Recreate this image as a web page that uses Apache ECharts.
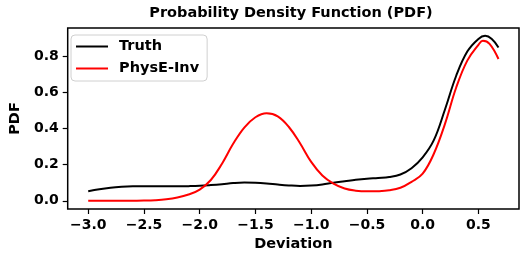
<!DOCTYPE html>
<html>
<head>
<meta charset="utf-8">
<script src="https://cdn.jsdelivr.net/npm/echarts@6/dist/echarts.min.js"></script>
<style>
html,body{margin:0;padding:0;background:#fff;}
#chart{width:529px;height:262px;}
</style>
</head>
<body>
<div id="chart"></div>
<script>
const titleText = 'Probability Density Function (PDF)';
const xName = 'Deviation';
const yName = 'PDF';
const seriesNames = ['Truth', 'PhysE-Inv'];

const truthX = [-3.0,-2.9,-2.8,-2.7,-2.6,-2.5,-2.4,-2.3,-2.2,-2.1,-2.0,-1.9,-1.8,-1.7,-1.6,-1.5,-1.4,-1.3,-1.2,-1.1,-1.0,-0.9,-0.8,-0.7,-0.6,-0.5,-0.4,-0.3,-0.2,-0.1,0.0,0.1,0.2,0.3,0.4,0.5,0.56,0.62,0.68];
const truthY = [0.053,0.064,0.072,0.077,0.080,0.081,0.081,0.080,0.080,0.081,0.083,0.087,0.092,0.098,0.101,0.100,0.096,0.090,0.085,0.082,0.084,0.090,0.100,0.108,0.116,0.122,0.126,0.131,0.145,0.180,0.240,0.335,0.505,0.690,0.825,0.895,0.912,0.895,0.848];

const predX = [-3.0,-2.9,-2.8,-2.7,-2.6,-2.5,-2.4,-2.3,-2.2,-2.1,-2.0,-1.9,-1.8,-1.7,-1.6,-1.5,-1.4,-1.3,-1.2,-1.1,-1.0,-0.9,-0.8,-0.7,-0.6,-0.5,-0.4,-0.3,-0.2,-0.1,0.0,0.1,0.2,0.3,0.4,0.5,0.54,0.6,0.68];
const predY = [0.0,0.0,0.0,0.0,0.0005,0.001,0.003,0.008,0.018,0.035,0.062,0.115,0.205,0.315,0.405,0.462,0.484,0.467,0.408,0.318,0.215,0.140,0.095,0.068,0.056,0.052,0.053,0.058,0.072,0.105,0.150,0.260,0.425,0.625,0.775,0.862,0.885,0.868,0.784];

const xTicks = [-3.0,-2.5,-2.0,-1.5,-1.0,-0.5,0.0,0.5];
const yTicks = [0.0,0.2,0.4,0.6,0.8];

const font = 'DejaVu Sans';
const fmt = v => (v < 0 ? '\u2212' : '') + Math.abs(v).toFixed(1);

const chart = echarts.init(document.getElementById('chart'), null, {renderer: 'canvas'});
chart.setOption({
  animation: false,
  backgroundColor: '#fff',
  title: {
    text: titleText,
    left: 291, top: 6, textAlign: 'center', padding: 0,
    textStyle: {fontFamily: font, fontWeight: 'bold', fontSize: 14.5, color: '#000'}
  },
  grid: {
    left: 63, right: 10, top: 28, bottom: 53,
    show: true, borderColor: '#000', borderWidth: 1.5, backgroundColor: 'transparent'
  },
  legend: {
    left: 71, top: 35, orient: 'vertical',
    data: seriesNames,
    icon: 'rect', itemWidth: 32, itemHeight: 2, itemGap: 5,
    padding: [3, 8, 4, 5],
    borderColor: '#d0d0d0', borderWidth: 1, borderRadius: 4,
    backgroundColor: 'rgba(255,255,255,0.8)',
    textStyle: {fontFamily: font, fontWeight: 'bold', fontSize: 14.5, color: '#000', lineHeight: 17, padding: [0,0,0,6]}
  },
  xAxis: {
    type: 'value', min: -3.184, max: 0.864,
    name: xName, nameLocation: 'middle', nameGap: 28,
    nameTextStyle: {fontFamily: font, fontWeight: 'bold', fontSize: 14.5, color: '#000'},
    axisLine: {show: false, onZero: false},
    splitLine: {show: false},
    axisTick: {show: true, length: 5, lineStyle: {color: '#000', width: 1.2}, customValues: xTicks},
    axisLabel: {customValues: xTicks, formatter: fmt, margin: 9, fontFamily: font, fontWeight: 'bold', fontSize: 14, color: '#000'}
  },
  yAxis: {
    type: 'value', min: -0.0455, max: 0.9555,
    name: yName, nameLocation: 'middle', nameGap: 44, nameRotate: 90,
    nameTextStyle: {fontFamily: font, fontWeight: 'bold', fontSize: 14.5, color: '#000'},
    axisLine: {show: false, onZero: false},
    splitLine: {show: false},
    axisTick: {show: true, length: 5, lineStyle: {color: '#000', width: 1.2}, customValues: yTicks},
    axisLabel: {customValues: yTicks, formatter: fmt, margin: 9, fontFamily: font, fontWeight: 'bold', fontSize: 14, color: '#000'}
  },
  series: [
    {
      name: seriesNames[0], type: 'line', smooth: 0.4, showSymbol: false,
      lineStyle: {color: '#000', width: 2}, itemStyle: {color: '#000'},
      data: truthX.map((x, i) => [x, truthY[i]])
    },
    {
      name: seriesNames[1], type: 'line', smooth: 0.4, showSymbol: false,
      lineStyle: {color: '#ff0000', width: 2}, itemStyle: {color: '#ff0000'},
      data: predX.map((x, i) => [x, predY[i]])
    }
  ]
});
</script>
</body>
</html>
